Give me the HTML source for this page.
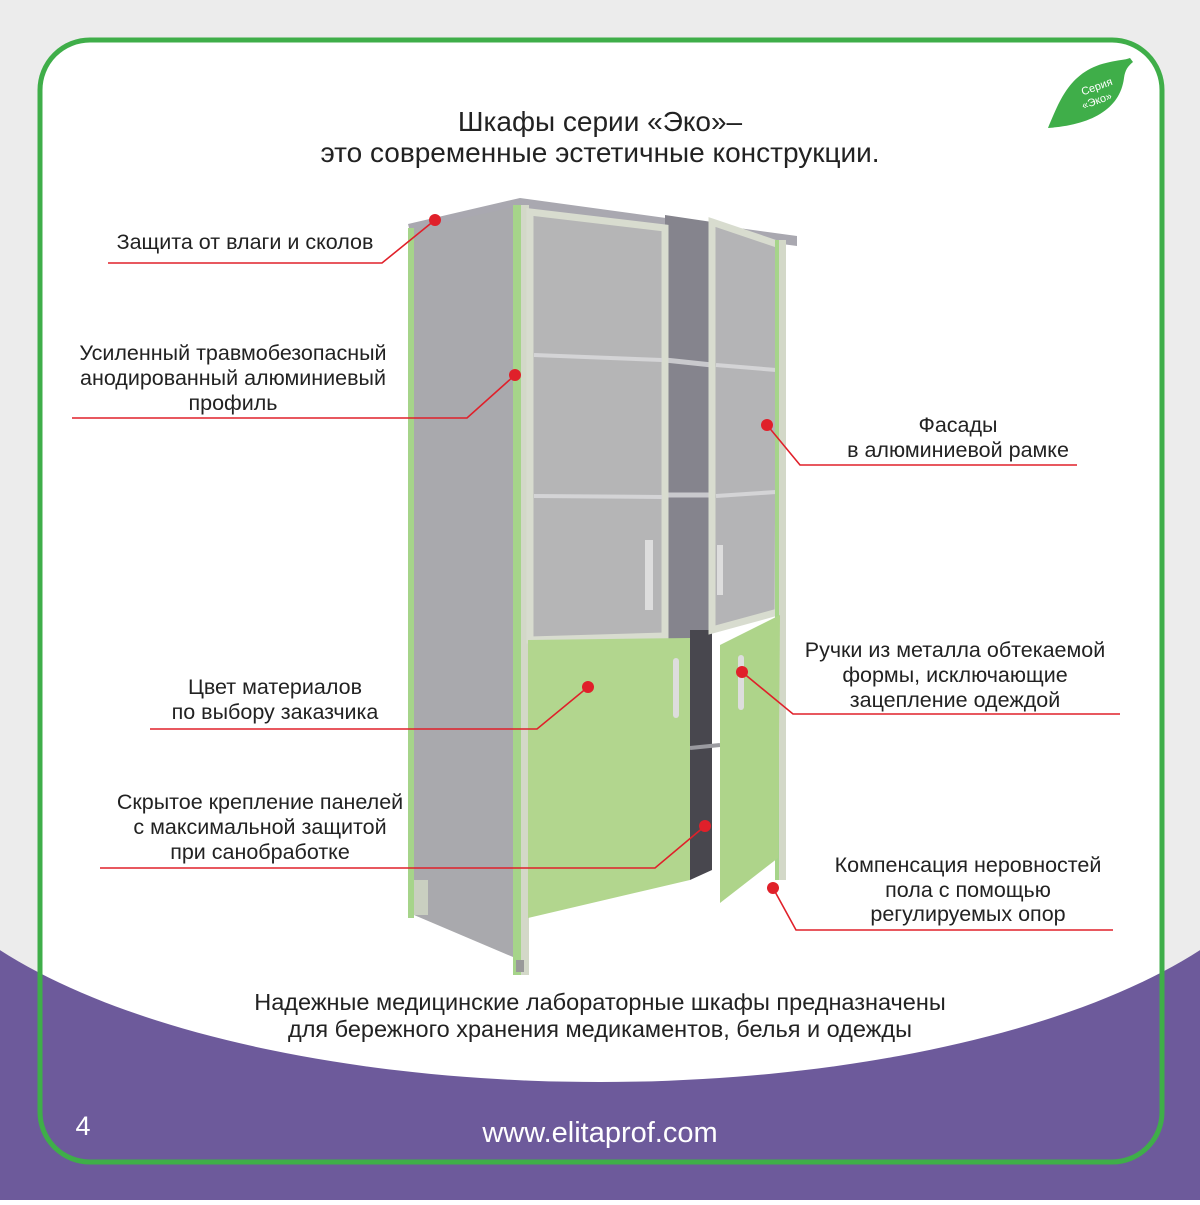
<!DOCTYPE html>
<html><head><meta charset="utf-8"><style>
html,body{margin:0;padding:0;}
body{width:1200px;height:1200px;overflow:hidden;}
text{font-family:"Liberation Sans",sans-serif;}
</style></head><body>
<svg width="1200" height="1200" viewBox="0 0 1200 1200" xmlns="http://www.w3.org/2000/svg">
<defs>
<mask id="m"><rect width="1200" height="1200" fill="#fff"/><ellipse cx="600" cy="810" rx="700" ry="272" fill="#000"/></mask>
</defs>
<rect width="1200" height="1200" fill="#ececec"/>
<rect x="40" y="40" width="1122" height="1122" rx="50" fill="#fff"/>
<rect x="0" y="900" width="1200" height="300" fill="#6d5a9b" mask="url(#m)"/>
<rect x="40" y="40" width="1122" height="1122" rx="50" fill="none" stroke="#3fae49" stroke-width="5"/>
<!-- leaf -->
<path d="M1048,128 C1060,100 1070,70 1110,62 C1118,60 1125,60 1130,58 L1133,62 C1128,66 1125,70 1124,78 C1120,110 1090,125 1048,128 Z" fill="#3fae49"/>
<text x="1098" y="90" font-size="11" fill="#fff" text-anchor="middle" transform="rotate(-20 1098 90)">Серия</text>
<text x="1098" y="104" font-size="11" fill="#fff" text-anchor="middle" transform="rotate(-20 1098 104)">«Эко»</text>
<!-- title -->
<text x="600" y="131" font-size="28" fill="#222" text-anchor="middle">Шкафы серии «Эко»–</text>
<text x="600" y="162" font-size="28" fill="#222" text-anchor="middle">это современные эстетичные конструкции.</text>
<!-- cabinet -->
<polygon points="408,224 520,198 797,236 797,246 525,210 410,232" fill="#a9a8b0"/>
<polygon points="410,230 518,206 520,960 414,915" fill="#a9a9ad"/>
<rect x="408" y="228" width="6" height="690" fill="#a6d48a"/>
<rect x="414" y="880" width="14" height="35" fill="#c9cfc0"/>
<rect x="513" y="205" width="9" height="770" fill="#a6d48a"/>
<rect x="521" y="205" width="8" height="770" fill="#d3d8c8"/>
<rect x="516" y="960" width="8" height="12" fill="#999"/>
<polygon points="665,215 712,222 712,640 665,640" fill="#85848d"/>
<polygon points="690,630 712,630 712,870 690,880" fill="#48474e"/>
<line x1="665" y1="360" x2="712" y2="365" stroke="#c9c9cd" stroke-width="5"/>
<line x1="665" y1="495" x2="712" y2="495" stroke="#c9c9cd" stroke-width="5"/>
<line x1="690" y1="748" x2="720" y2="745" stroke="#9a9aa0" stroke-width="4"/>
<polygon points="530,212 665,228 665,636 530,640" fill="#b5b5b6" stroke="#d8dccf" stroke-width="7"/>
<line x1="534" y1="355" x2="662" y2="360" stroke="#d4d4d6" stroke-width="4"/>
<line x1="534" y1="496" x2="662" y2="497" stroke="#d4d4d6" stroke-width="4"/>
<rect x="645" y="540" width="8" height="70" fill="#ddd"/>
<polygon points="712,222 780,245 778,612 712,630" fill="#b4b4b6" stroke="#d8dccf" stroke-width="7"/>
<line x1="716" y1="365" x2="776" y2="370" stroke="#d4d4d6" stroke-width="4"/>
<line x1="716" y1="496" x2="776" y2="492" stroke="#d4d4d6" stroke-width="4"/>
<rect x="717" y="545" width="6" height="50" fill="#ddd"/>
<rect x="778" y="240" width="8" height="640" fill="#d3d8c8"/>
<rect x="775" y="240" width="4" height="640" fill="#a6d48a"/>
<polygon points="528,640 690,638 690,880 528,918" fill="#b2d68e"/>
<polygon points="720,645 780,615 778,858 720,903" fill="#aed48a"/>
<rect x="673" y="658" width="6" height="60" rx="3" fill="#ddd"/>
<rect x="738" y="655" width="6" height="55" rx="3" fill="#ddd"/>
<!-- leaders -->
<g stroke="#e0202a" stroke-width="1.6" fill="none">
<polyline points="108,263 382,263 435,220"/>
<polyline points="72,418 467,418 515,375"/>
<polyline points="767,425 800,465 1077,465"/>
<polyline points="742,672 793,714 1120,714"/>
<polyline points="150,729 537,729 588,687"/>
<polyline points="100,868 655,868 705,826"/>
<polyline points="773,888 796,930 1113,930"/>
</g>
<g fill="#e0202a">
<circle cx="435" cy="220" r="6"/><circle cx="515" cy="375" r="6"/><circle cx="767" cy="425" r="6"/>
<circle cx="742" cy="672" r="6"/><circle cx="588" cy="687" r="6"/><circle cx="705" cy="826" r="6"/><circle cx="773" cy="888" r="6"/>
</g>
<g font-size="21.5" fill="#222" text-anchor="middle">
<text x="245" y="249">Защита от влаги и сколов</text>
<text x="233" y="360">Усиленный травмобезопасный</text>
<text x="233" y="385">анодированный алюминиевый</text>
<text x="233" y="410">профиль</text>
<text x="958" y="432">Фасады</text>
<text x="958" y="457">в алюминиевой рамке</text>
<text x="955" y="657">Ручки из металла обтекаемой</text>
<text x="955" y="682">формы, исключающие</text>
<text x="955" y="707">зацепление одеждой</text>
<text x="275" y="694">Цвет материалов</text>
<text x="275" y="719">по выбору заказчика</text>
<text x="260" y="809">Скрытое крепление панелей</text>
<text x="260" y="834">с максимальной защитой</text>
<text x="260" y="859">при санобработке</text>
<text x="968" y="872">Компенсация неровностей</text>
<text x="968" y="897">пола с помощью</text>
<text x="968" y="921">регулируемых опор</text>
<text x="600" y="1010" font-size="23.5">Надежные медицинские лабораторные шкафы предназначены</text>
<text x="600" y="1037" font-size="23.5">для бережного хранения медикаментов, белья и одежды</text>
</g>
<text x="83" y="1135" font-size="27" fill="#fff" text-anchor="middle">4</text>
<text x="600" y="1142" font-size="29" fill="#fff" text-anchor="middle">www.elitaprof.com</text>
</svg>
</body></html>
